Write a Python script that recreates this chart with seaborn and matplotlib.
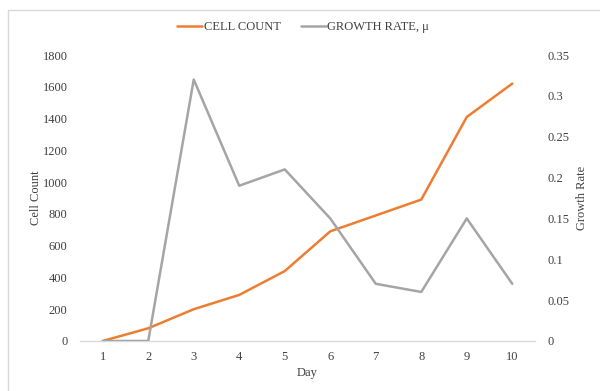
import matplotlib
matplotlib.use("Agg")
import matplotlib.pyplot as plt
from matplotlib.lines import Line2D
import seaborn as sns
import pandas as pd

days = [1, 2, 3, 4, 5, 6, 7, 8, 9, 10]
cell_count = [0, 80, 200, 290, 440, 690, 790, 890, 1410, 1620]
growth_rate = [0, 0, 0.32, 0.19, 0.21, 0.15, 0.07, 0.06, 0.15, 0.07]

count_ticks = [0, 200, 400, 600, 800, 1000, 1200, 1400, 1600, 1800]
rate_ticks = [0, 0.05, 0.1, 0.15, 0.2, 0.25, 0.3, 0.35]
rate_labels = ["0", "0.05", "0.1", "0.15", "0.2", "0.25", "0.3", "0.35"]

df = pd.DataFrame({"Day": days, "Cell Count": cell_count, "Growth Rate": growth_rate})

sns.set_theme(style="white")
plt.rcParams["font.family"] = ["Liberation Serif", "DejaVu Serif"]

ORANGE = "#ED7D31"
GRAY = "#A5A5A5"
TEXT = "#404040"

fig = plt.figure(figsize=(6.0, 3.91), dpi=100)
ax = fig.add_axes([0.1333, 0.1279, 0.7584, 0.7314])
ax2 = ax.twinx()

sns.lineplot(data=df, x="Day", y="Cell Count", ax=ax, color=ORANGE, linewidth=1.8)
sns.lineplot(data=df, x="Day", y="Growth Rate", ax=ax2, color=GRAY, linewidth=1.8)

ax.set_xlim(0.5, 10.5)
ax.set_ylim(0, 1800)
ax2.set_ylim(0, 0.35)
ax.set_xticks(days)
ax.set_xticklabels([str(d) for d in days])
ax.set_yticks(count_ticks)
ax.set_yticklabels([str(t) for t in count_ticks])
ax2.set_yticks(rate_ticks)
ax2.set_yticklabels(rate_labels)

for a in (ax, ax2):
    for s in a.spines.values():
        s.set_visible(False)
    a.tick_params(length=0, labelsize=9, colors=TEXT)
    a.grid(False)
ax.spines["bottom"].set_visible(True)
ax.spines["bottom"].set_color("#D9D9D9")
ax.spines["bottom"].set_linewidth(1.0)

ax.tick_params(axis="y", pad=9)
ax2.tick_params(axis="y", pad=9)
ax.tick_params(axis="x", pad=7)

ax.set_xlabel("Day", fontsize=9, color=TEXT, labelpad=3)
ax.set_ylabel("Cell Count", fontsize=9, color=TEXT, labelpad=0)
ax2.set_ylabel("Growth Rate", fontsize=9, color=TEXT, labelpad=5)

handles = [Line2D([], [], color=ORANGE, linewidth=1.8),
           Line2D([], [], color=GRAY, linewidth=1.8)]
fig.legend(handles, ["CELL COUNT", "GROWTH RATE, \u03bc"], loc="center",
           bbox_to_anchor=(0.505, 0.93), ncol=2, frameon=False, fontsize=9,
           handlelength=2.0, handletextpad=0.1, columnspacing=1.6,
           labelcolor=TEXT)

# chart-area border
fig.add_artist(Line2D([8 / 600, 8 / 600], [0, 1 - 10 / 391], transform=fig.transFigure,
                      color="#D9D9D9", linewidth=1.0))
fig.add_artist(Line2D([8 / 600, 1], [1 - 10 / 391, 1 - 10 / 391], transform=fig.transFigure,
                      color="#D9D9D9", linewidth=1.0))

fig.savefig("out.png", dpi=100, facecolor="white")
